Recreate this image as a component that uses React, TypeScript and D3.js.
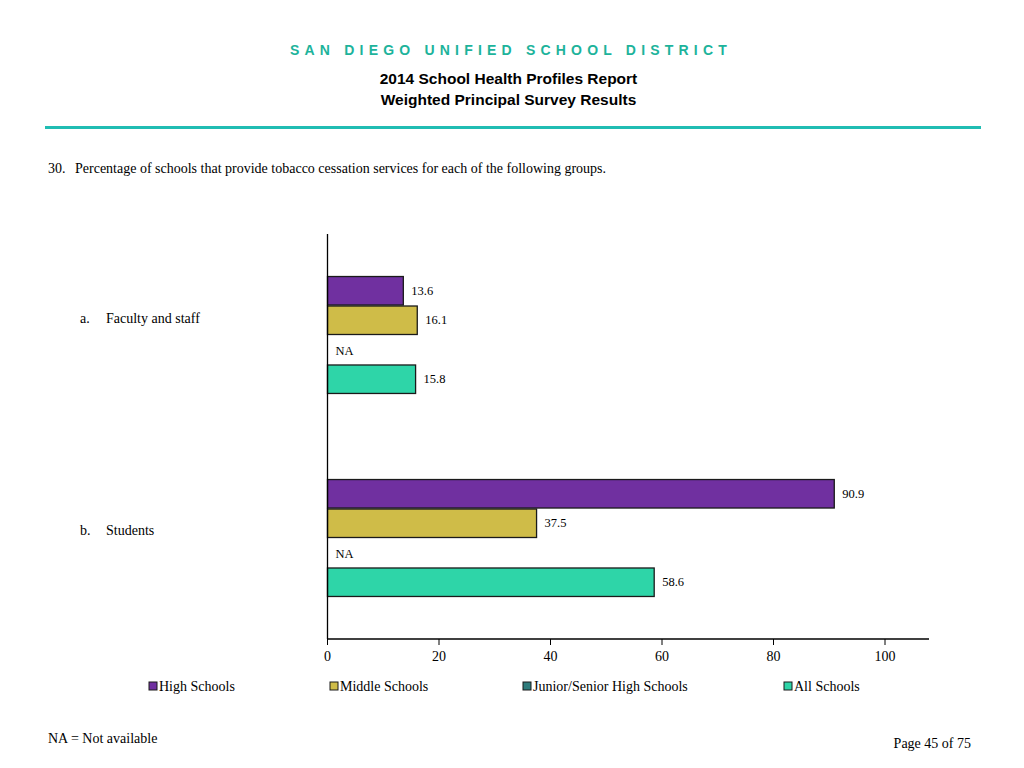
import React from "react";
import * as d3 from "d3";

const categories = ["Faculty and staff", "Students"];
const categoryLetters = ["a.", "b."];
const seriesNames = ["High Schools", "Middle Schools", "Junior/Senior High Schools", "All Schools"];
const seriesColors = ["#7030A0", "#CFBC48", "#2E7B7B", "#2ED5A8"];
const highSchools: (number | null)[] = [13.6, 90.9];
const middleSchools: (number | null)[] = [16.1, 37.5];
const juniorSenior: (number | null)[] = [null, null];
const allSchools: (number | null)[] = [15.8, 58.6];
const xTicks = [0, 20, 40, 60, 80, 100];
const legendX = [149, 330, 523, 784];

const seriesValues = [highSchools, middleSchools, juniorSenior, allSchools];

export default function App() {
  const W = 1024, H = 768;
  const x = d3.scaleLinear().domain([0, 100]).range([327.5, 885]);
  const y = d3.scaleBand<string>().domain(categories).range([234, 639]).paddingInner(0.419).paddingOuter(0.207);
  const y1 = d3.scaleBand<string>().domain(seriesNames).range([0, y.bandwidth()]);
  const serif = "'Liberation Serif', 'Times New Roman', serif";
  const sans = "'Liberation Sans', Arial, sans-serif";

  return (
    <svg width={W} height={H} style={{ position: "absolute", left: 0, top: 0, background: "#fff" }}>
      <text x={511} y={55} textAnchor="middle" fontFamily={sans} fontWeight="bold" fontSize={14} fill="#1DB39B" letterSpacing="5.2">
        SAN DIEGO UNIFIED SCHOOL DISTRICT
      </text>
      <text x={508.5} y={84} textAnchor="middle" fontFamily={sans} fontWeight="bold" fontSize={15.5} fill="#000">
        2014 School Health Profiles Report
      </text>
      <text x={508.5} y={105} textAnchor="middle" fontFamily={sans} fontWeight="bold" fontSize={15.5} fill="#000">
        Weighted Principal Survey Results
      </text>
      <line x1={45} x2={981} y1={127.5} y2={127.5} stroke="#20BDB3" strokeWidth={3} />
      <text x={48} y={173} fontFamily={serif} fontSize={14} fill="#000">
        30.
      </text>
      <text x={75} y={173} fontFamily={serif} fontSize={14} fill="#000">
        Percentage of schools that provide tobacco cessation services for each of the following groups.
      </text>

      {categories.map((c, i) => {
        const y0 = y(c)!;
        const ly = y0 + y.bandwidth() / 2 - 12 + i * 9;
        return (
          <g key={c}>
            <text x={80} y={ly} fontFamily={serif} fontSize={14} fill="#000">
              {categoryLetters[i]}
            </text>
            <text x={106} y={ly} fontFamily={serif} fontSize={14} fill="#000">
              {c}
            </text>
            {seriesNames.map((s, j) => {
              const v = seriesValues[j][i];
              const by = y0 + y1(s)!;
              const bh = y1.bandwidth();
              if (v == null) {
                return (
                  <text key={s} x={x(0) + 8} y={by + bh / 2 + 5} fontFamily={serif} fontSize={12.5} fill="#000">
                    NA
                  </text>
                );
              }
              return (
                <g key={s}>
                  <rect x={x(0)} y={by + 0.5} width={x(v) - x(0)} height={bh - 1} fill={seriesColors[j]} stroke="#1a1a1a" strokeWidth={1.3} />
                  <text x={x(v) + 8} y={by + bh / 2 + 4} fontFamily={serif} fontSize={12.5} fill="#000">
                    {v.toFixed(1)}
                  </text>
                </g>
              );
            })}
          </g>
        );
      })}

      <line x1={327.5} x2={327.5} y1={234} y2={639} stroke="#000" strokeWidth={1.3} />
      <line x1={327.5} x2={929} y1={639} y2={639} stroke="#000" strokeWidth={1.3} />
      {xTicks.map((t) => (
        <g key={t}>
          <line x1={x(t)} x2={x(t)} y1={639} y2={645} stroke="#000" strokeWidth={1} />
          <text x={x(t)} y={661} textAnchor="middle" fontFamily={serif} fontSize={14} fill="#000">
            {t}
          </text>
        </g>
      ))}

      {seriesNames.map((s, j) => (
        <g key={s}>
          <rect x={legendX[j]} y={682} width={8} height={8} fill={seriesColors[j]} stroke="#1a1a1a" strokeWidth={1} />
          <text x={legendX[j] + 10} y={690.5} fontFamily={serif} fontSize={14} fill="#000">
            {s}
          </text>
        </g>
      ))}

      <text x={48} y={743} fontFamily={serif} fontSize={14} fill="#000">
        NA = Not available
      </text>
      <text x={971} y={748} textAnchor="end" fontFamily={serif} fontSize={14} fill="#000">
        Page 45 of 75
      </text>
    </svg>
  );
}
